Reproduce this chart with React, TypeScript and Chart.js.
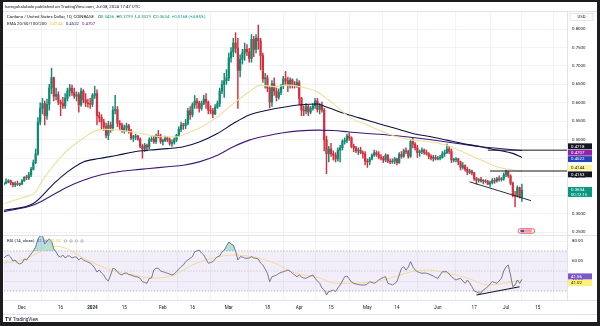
import React, { useEffect, useRef } from 'react';
import { Chart, registerables } from 'chart.js';

Chart.register(...registerables);

const FONT = 'Roboto, "Liberation Sans", Arial, sans-serif';
const TEXT = '#131722';
const UP = '#0f8a73';
const DOWN = '#d3303f';
const LEGEND_UP = '#089981';

// day index 0 = 1 Dec 2023; first candle = 23 Nov 2023
const firstDay = -8;
const firstOpen = 0.379;
const closes = [
  0.382, 0.386, 0.389, 0.383, 0.378, 0.381, 0.379, 0.380, 0.389, 0.398,
  0.397, 0.405, 0.420, 0.438, 0.462, 0.548, 0.585, 0.598, 0.565, 0.596,
  0.640, 0.668, 0.618, 0.622, 0.602, 0.598, 0.592, 0.612, 0.632, 0.640,
  0.628, 0.618, 0.622, 0.595, 0.632, 0.608, 0.600, 0.598, 0.596, 0.620,
  0.625, 0.565, 0.560, 0.548, 0.535, 0.512, 0.540, 0.532, 0.580, 0.582,
  0.545, 0.540, 0.525, 0.532, 0.538, 0.524, 0.505, 0.508, 0.510, 0.502,
  0.482, 0.475, 0.485, 0.480, 0.500, 0.502, 0.495, 0.512, 0.510, 0.495,
  0.498, 0.505, 0.500, 0.490, 0.492, 0.500, 0.512, 0.528, 0.540, 0.538,
  0.545, 0.578, 0.568, 0.595, 0.605, 0.600, 0.585, 0.598, 0.610, 0.602,
  0.580, 0.578, 0.570, 0.588, 0.598, 0.632, 0.650, 0.660, 0.668, 0.722,
  0.738, 0.762, 0.748, 0.688, 0.718, 0.735, 0.745, 0.738, 0.720, 0.772,
  0.745, 0.775, 0.768, 0.728, 0.665, 0.668, 0.640, 0.602, 0.652, 0.632,
  0.615, 0.628, 0.645, 0.665, 0.660, 0.648, 0.662, 0.650, 0.648, 0.655,
  0.612, 0.580, 0.578, 0.590, 0.575, 0.585, 0.592, 0.605, 0.582, 0.592,
  0.580, 0.500, 0.462, 0.475, 0.462, 0.458, 0.448, 0.472, 0.478, 0.495,
  0.498, 0.510, 0.505, 0.482, 0.478, 0.470, 0.472, 0.465, 0.462, 0.442,
  0.440, 0.448, 0.458, 0.465, 0.460, 0.452, 0.450, 0.445, 0.458, 0.442,
  0.440, 0.442, 0.448, 0.438, 0.460, 0.455, 0.470, 0.468, 0.455, 0.495,
  0.488, 0.478, 0.465, 0.468, 0.472, 0.465, 0.462, 0.455, 0.450, 0.452,
  0.448, 0.450, 0.452, 0.462, 0.465, 0.475, 0.468, 0.445, 0.446, 0.448,
  0.440, 0.425, 0.430, 0.420, 0.412, 0.415, 0.410, 0.395, 0.390, 0.392,
  0.388, 0.388, 0.386, 0.380, 0.384, 0.390, 0.388, 0.394, 0.392, 0.394,
  0.405, 0.412, 0.402, 0.382, 0.350, 0.348, 0.370, 0.3456, 0.3634,
];
const highs = [
  0.386, 0.394, 0.392, 0.391, 0.385, 0.386, 0.388, 0.383, 0.392, 0.400,
  0.404, 0.412, 0.425, 0.445, 0.475, 0.560, 0.600, 0.612, 0.605, 0.610,
  0.650, 0.694, 0.670, 0.640, 0.630, 0.608, 0.615, 0.625, 0.640, 0.650,
  0.648, 0.640, 0.630, 0.628, 0.640, 0.636, 0.625, 0.610, 0.612, 0.625,
  0.645, 0.635, 0.575, 0.568, 0.555, 0.545, 0.550, 0.548, 0.590, 0.620,
  0.590, 0.552, 0.545, 0.540, 0.545, 0.542, 0.528, 0.512, 0.515, 0.512,
  0.505, 0.488, 0.490, 0.488, 0.505, 0.508, 0.510, 0.515, 0.525, 0.515,
  0.502, 0.510, 0.508, 0.505, 0.500, 0.505, 0.515, 0.535, 0.548, 0.545,
  0.555, 0.585, 0.590, 0.600, 0.620, 0.612, 0.605, 0.605, 0.620, 0.625,
  0.605, 0.592, 0.585, 0.595, 0.605, 0.640, 0.660, 0.680, 0.690, 0.735,
  0.750, 0.775, 0.790, 0.775, 0.730, 0.745, 0.762, 0.758, 0.748, 0.785,
  0.780, 0.785, 0.811, 0.775, 0.735, 0.680, 0.675, 0.645, 0.660, 0.668,
  0.640, 0.638, 0.650, 0.672, 0.685, 0.670, 0.668, 0.665, 0.658, 0.665,
  0.660, 0.615, 0.592, 0.598, 0.595, 0.590, 0.598, 0.612, 0.612, 0.598,
  0.602, 0.585, 0.510, 0.482, 0.490, 0.470, 0.465, 0.478, 0.485, 0.500,
  0.505, 0.515, 0.518, 0.508, 0.488, 0.482, 0.478, 0.480, 0.470, 0.468,
  0.448, 0.452, 0.462, 0.472, 0.470, 0.468, 0.460, 0.455, 0.462, 0.460,
  0.448, 0.448, 0.452, 0.450, 0.465, 0.468, 0.475, 0.478, 0.472, 0.500,
  0.505, 0.492, 0.485, 0.472, 0.478, 0.475, 0.472, 0.465, 0.460, 0.458,
  0.458, 0.455, 0.458, 0.468, 0.472, 0.488, 0.482, 0.475, 0.450, 0.452,
  0.450, 0.442, 0.438, 0.432, 0.425, 0.420, 0.418, 0.412, 0.398, 0.395,
  0.398, 0.392, 0.392, 0.390, 0.388, 0.395, 0.396, 0.398, 0.402, 0.398,
  0.410, 0.418, 0.415, 0.405, 0.385, 0.360, 0.375, 0.372, 0.3799,
];
const lows = [
  0.376, 0.380, 0.383, 0.378, 0.372, 0.373, 0.376, 0.375, 0.378, 0.387,
  0.392, 0.392, 0.400, 0.418, 0.435, 0.458, 0.540, 0.570, 0.540, 0.555,
  0.580, 0.625, 0.605, 0.608, 0.595, 0.565, 0.585, 0.585, 0.605, 0.618,
  0.620, 0.612, 0.605, 0.575, 0.590, 0.600, 0.590, 0.588, 0.585, 0.590,
  0.612, 0.540, 0.548, 0.530, 0.525, 0.505, 0.500, 0.520, 0.525, 0.570,
  0.535, 0.528, 0.520, 0.518, 0.522, 0.518, 0.500, 0.495, 0.500, 0.498,
  0.478, 0.450, 0.468, 0.470, 0.475, 0.495, 0.490, 0.490, 0.505, 0.490,
  0.485, 0.495, 0.495, 0.485, 0.482, 0.488, 0.495, 0.508, 0.522, 0.528,
  0.530, 0.540, 0.555, 0.562, 0.585, 0.585, 0.575, 0.580, 0.595, 0.585,
  0.570, 0.570, 0.560, 0.568, 0.585, 0.590, 0.625, 0.615, 0.650, 0.660,
  0.710, 0.725, 0.735, 0.585, 0.670, 0.705, 0.715, 0.728, 0.710, 0.710,
  0.725, 0.735, 0.745, 0.690, 0.655, 0.640, 0.630, 0.586, 0.590, 0.620,
  0.605, 0.610, 0.622, 0.638, 0.650, 0.630, 0.640, 0.640, 0.640, 0.642,
  0.595, 0.565, 0.565, 0.570, 0.565, 0.570, 0.580, 0.585, 0.575, 0.570,
  0.575, 0.470, 0.408, 0.440, 0.455, 0.445, 0.440, 0.442, 0.440, 0.472,
  0.488, 0.492, 0.498, 0.478, 0.468, 0.465, 0.460, 0.462, 0.450, 0.432,
  0.425, 0.432, 0.445, 0.455, 0.455, 0.448, 0.445, 0.438, 0.440, 0.438,
  0.435, 0.436, 0.435, 0.432, 0.436, 0.450, 0.452, 0.462, 0.450, 0.452,
  0.478, 0.472, 0.452, 0.455, 0.462, 0.460, 0.458, 0.448, 0.445, 0.442,
  0.445, 0.445, 0.445, 0.450, 0.455, 0.462, 0.462, 0.438, 0.440, 0.440,
  0.432, 0.418, 0.420, 0.415, 0.405, 0.408, 0.405, 0.390, 0.380, 0.385,
  0.385, 0.380, 0.383, 0.378, 0.372, 0.380, 0.382, 0.385, 0.388, 0.388,
  0.390, 0.400, 0.398, 0.378, 0.345, 0.318, 0.345, 0.342, 0.3329,
];

// moving averages (yellow / navy / purple)
const emaFastDays = [-8, -1, 6, 9, 14, 20, 27, 33, 37, 42, 49, 56, 61, 68, 74, 78, 86, 93, 100, 105, 111, 117, 122, 130, 133, 137, 144, 152, 159, 165, 172, 180, 187, 194, 202, 209, 216, 220];
const emaFast = [0.327, 0.341, 0.359, 0.390, 0.431, 0.472, 0.504, 0.526, 0.528, 0.526, 0.521, 0.513, 0.508, 0.508, 0.521, 0.531, 0.562, 0.598, 0.630, 0.648, 0.644, 0.648, 0.644, 0.630, 0.616, 0.598, 0.562, 0.540, 0.521, 0.508, 0.499, 0.494, 0.485, 0.467, 0.445, 0.427, 0.418, 0.4144];
const emaMidDays = [-8, 5, 14, 20, 27, 34, 42, 49, 56, 64, 71, 78, 86, 93, 100, 108, 115, 122, 130, 133, 137, 144, 152, 159, 166, 172, 180, 187, 194, 202, 209, 216, 220];
const emaMid = [0.309, 0.327, 0.381, 0.413, 0.440, 0.449, 0.458, 0.467, 0.472, 0.476, 0.481, 0.494, 0.517, 0.544, 0.567, 0.580, 0.588, 0.594, 0.597, 0.591, 0.582, 0.567, 0.553, 0.540, 0.528, 0.517, 0.508, 0.499, 0.490, 0.481, 0.472, 0.463, 0.4522];
const emaSlowDays = [-8, 5, 12, 20, 27, 34, 42, 49, 56, 64, 71, 78, 86, 93, 100, 108, 115, 122, 130, 137, 144, 152, 159, 166, 172, 180, 187, 194, 202, 209, 216, 220];
const emaSlow = [0.305, 0.323, 0.345, 0.372, 0.390, 0.404, 0.413, 0.418, 0.422, 0.427, 0.431, 0.440, 0.458, 0.481, 0.499, 0.511, 0.519, 0.524, 0.526, 0.525, 0.521, 0.517, 0.514, 0.510, 0.506, 0.500, 0.494, 0.488, 0.481, 0.477, 0.473, 0.4707];

// RSI(14), one value per candle
const rsiValues = [
  63, 65, 66, 64, 60, 61, 58, 57, 58, 62,
  61, 64, 67, 70, 74, 82, 85, 86, 77, 80,
  82, 80, 72, 69, 65, 64, 66, 63, 65, 65,
  63, 64, 64, 61, 63, 61, 60, 59, 58, 56,
  53, 49, 51, 48, 46, 42, 40, 46, 52.7, 52,
  49, 47, 46, 47.7, 48, 46.5, 46, 45, 44.3, 44,
  42.7, 39.3, 38.5, 37.7, 42.7, 43, 51, 52.7, 52.7, 50,
  49.3, 48.5, 47.7, 47, 46, 47, 49.3, 52, 54.3, 56,
  59.3, 61, 62.7, 64.3, 69.3, 70, 71, 68, 66, 62,
  57.7, 58.5, 59.3, 62, 64.3, 65, 69, 71, 75, 79,
  77, 76, 70, 61, 64.3, 64, 63, 62.7, 63, 64.3,
  63, 62.7, 62, 58, 56, 52, 47.7, 39.3, 44.3, 45,
  46, 47.5, 48.5, 49.3, 50, 51, 50, 47.7, 46, 44.3,
  46, 44, 43, 42.7, 44, 45, 46, 42.7, 40, 37.7,
  33, 31, 26, 29.3, 30, 31, 29.3, 33, 36, 40,
  44.3, 45, 42, 39, 37.7, 37, 36.5, 36, 36, 36,
  37, 39.3, 38.5, 37.7, 39, 41, 42.5, 43.5, 44.3, 37.7,
  37, 36, 37.5, 39.3, 46, 52.7, 54.3, 51, 54, 59.3,
  54.3, 51, 49.3, 48.5, 47.7, 48, 47.7, 47, 46, 45,
  43.5, 42.7, 46, 49.3, 49.3, 49.3, 47, 44.3, 42.5, 41,
  42, 42.7, 40, 37.7, 41, 38, 34.3, 30, 29, 28,
  27.7, 31, 32.5, 34.3, 37, 39.3, 38.5, 37.7, 40, 42.7,
  50, 54, 56, 46, 34.3, 36, 41, 37.7, 41.56,
];
const rsiMaDays = [-8, 0, 7, 14, 20, 27, 39, 49, 58, 67, 75, 84, 93, 102, 111, 119, 131, 137, 144, 159, 171, 178, 187, 196, 205, 213, 220];
const rsiMaValues = [58, 61, 68, 75, 72, 63, 51, 46, 43, 46, 56, 63, 66, 64, 58, 49, 43, 38, 37.7, 41, 49, 51, 48, 43, 36, 38, 41.02];

const timeTickDays = [0, 17, 31, 45, 62, 75, 91, 108, 122, 136, 152, 165, 183, 199, 213, 227];
const timeTickLabels = ['Dec', '16', '2024', '15', 'Feb', '16', 'Mar', '18', 'Apr', '15', 'May', '14', 'Jun', '17', 'Jul', '15'];
const priceTicks = [0.25, 0.3, 0.35, 0.4, 0.45, 0.5, 0.55, 0.6, 0.65, 0.7, 0.75, 0.8];
const rsiTicks = [40, 60, 80];
const rsiBandLevels = [70, 50, 30];

const hLineLevels = [0.4718, 0.4153];
const hLineStartDays = [205, 206];
const priceTrendDays = [197, 224];
const priceTrendValues = [0.386, 0.335];
const rsiTrendDays = [200, 219];
const rsiTrendValues = [26, 34.3];
const eventDay = 222;

const changeText = '+0.0168 (+4.85%)';
const countdown = '00:12:15';

const X_MIN = -7.92;
const X_MAX = 239.85;

const pts = (xs: number[], ys: number[]) => xs.map((x, i) => ({ x, y: ys[i] }));

function txt(ctx: CanvasRenderingContext2D, s: string, x: number, y: number, color: string, size = 4.4, weight = 'normal', align: CanvasTextAlign = 'left') {
  ctx.font = `${weight} ${size}px ${FONT}`;
  ctx.fillStyle = color;
  ctx.textAlign = align;
  ctx.textBaseline = 'middle';
  ctx.fillText(s, x, y);
  return ctx.measureText(s).width;
}

function hline(ctx: CanvasRenderingContext2D, x1: number, x2: number, y: number, color: string) {
  ctx.strokeStyle = color;
  ctx.lineWidth = 1;
  ctx.beginPath();
  ctx.moveTo(x1, Math.round(y) + 0.5);
  ctx.lineTo(x2, Math.round(y) + 0.5);
  ctx.stroke();
}

type Tag = { v: number; bg: string; fg: string; y?: number; cy?: number };

function layoutTags(tags: Tag[], H: number) {
  const avg = (a: number[]) => a.reduce((s, v) => s + v, 0) / a.length;
  let groups = tags.map((t) => ({ items: [t], ideal: [t.y as number] }));
  let changed = true;
  while (changed) {
    changed = false;
    for (let i = 0; i < groups.length - 1; i++) {
      const a = groups[i];
      const b = groups[i + 1];
      const aBottom = avg(a.ideal) + (a.items.length * H) / 2;
      const bTop = avg(b.ideal) - (b.items.length * H) / 2;
      if (aBottom > bTop) {
        groups.splice(i, 2, { items: [...a.items, ...b.items], ideal: [...a.ideal, ...b.ideal] });
        changed = true;
        break;
      }
    }
  }
  groups.forEach((g) => {
    const top = avg(g.ideal) - (g.items.length * H) / 2;
    g.items.forEach((t, k) => (t.cy = top + H * k + H / 2));
  });
}

function drawTag(ctx: CanvasRenderingContext2D, x: number, cy: number, h: number, label: string, bg: string, fg: string) {
  ctx.fillStyle = bg;
  ctx.fillRect(x, cy - h / 2, 24, h);
  txt(ctx, label, x + 3, cy + 0.2, fg, 4.4);
}

const tvPlugin = {
  id: 'tvDecor',
  beforeDraw(chart: any) {
    const { ctx, width, height } = chart;
    ctx.save();
    ctx.fillStyle = '#1d1d1f';
    ctx.fillRect(0, 0, width, height);
    ctx.fillStyle = '#ffffff';
    ctx.fillRect(3, 2, 594, 320);
    ctx.restore();
  },
  afterDraw(chart: any) {
    const { ctx, chartArea: area } = chart;
    const ys = chart.scales.y;
    const ys2 = chart.scales.y2;
    const xs = chart.scales.x;
    ctx.save();
    hline(ctx, 3, 597, 11, '#e0e3eb');
    hline(ctx, 3, 597, ys.bottom, '#e0e3eb');
    hline(ctx, 3, 597, area.bottom, '#e0e3eb');
    hline(ctx, 3, 597, 314, '#e0e3eb');
    ctx.strokeStyle = '#e0e3eb';
    ctx.beginPath();
    ctx.moveTo(Math.round(area.right) + 0.5, 11);
    ctx.lineTo(Math.round(area.right) + 0.5, area.bottom);
    ctx.stroke();

    txt(ctx, 'kamguhalubale published on TradingView.com, Jul 08, 2024 17:47 UTC', 5, 7, TEXT, 4.3);

    const n = closes.length - 1;
    const lastOpen = closes[n - 1];
    let x = 7;
    x += txt(ctx, 'Cardano / United States Dollar, 1D, COINBASE', x, 17, TEXT, 4.3) + 4;
    const ohlc: [string, number][] = [['O', lastOpen], ['H', highs[n]], ['L', lows[n]], ['C', closes[n]]];
    ohlc.forEach(([k, v]) => {
      x += txt(ctx, k, x, 17, TEXT, 4.3);
      x += txt(ctx, v.toFixed(4), x, 17, LEGEND_UP, 4.3) + 2.5;
    });
    txt(ctx, changeText, x, 17, LEGEND_UP, 4.3);

    x = 7;
    x += txt(ctx, 'EMA 20/50/100/200', x, 24, TEXT, 4.3) + 3;
    x += txt(ctx, emaFast[emaFast.length - 1].toFixed(4), x, 24, '#e8c547', 4.3) + 3;
    x += txt(ctx, emaMid[emaMid.length - 1].toFixed(4), x, 24, '#1a237e', 4.3) + 3;
    txt(ctx, emaSlow[emaSlow.length - 1].toFixed(4), x, 24, '#6a1b9a', 4.3);

    ctx.fillStyle = '#ffffff';
    ctx.fillRect(570, 13.5, 23, 7);
    ctx.strokeStyle = '#d1d4dc';
    ctx.lineWidth = 0.6;
    ctx.strokeRect(570, 13.5, 23, 7);
    txt(ctx, 'USD', 581.5, 17.2, TEXT, 4.3, 'normal', 'center');

    x = 7;
    const ry = ys2.top + 6;
    x += txt(ctx, 'RSI (14, close)', x, ry, TEXT, 4.3) + 2.5;
    x += txt(ctx, rsiValues[rsiValues.length - 1].toFixed(2), x, ry, '#7e57c2', 4.3) + 2.5;
    x += txt(ctx, rsiMaValues[rsiMaValues.length - 1].toFixed(2), x, ry, '#e8c547', 4.3) + 3;
    ctx.strokeStyle = '#9598a1';
    ctx.lineWidth = 0.6;
    for (let i = 0; i < 4; i++) {
      ctx.beginPath();
      ctx.arc(x + 1.5 + i * 5.5, ry, 1.3, 0, Math.PI * 2);
      ctx.stroke();
    }

    const tagX = area.right + 1;
    const priceTags: Tag[] = [
      { v: hLineLevels[0], bg: '#131722', fg: '#ffffff' },
      { v: emaSlow[emaSlow.length - 1], bg: '#8e24aa', fg: '#ffffff' },
      { v: emaMid[emaMid.length - 1], bg: '#2443b5', fg: '#ffffff' },
      { v: emaFast[emaFast.length - 1], bg: '#fff59d', fg: TEXT },
      { v: hLineLevels[1], bg: '#131722', fg: '#ffffff' },
    ];
    priceTags.forEach((t) => (t.y = ys.getPixelForValue(t.v)));
    layoutTags(priceTags, 6.4);
    priceTags.forEach((t) => drawTag(ctx, tagX, t.cy as number, 5.9, t.v.toFixed(4), t.bg, t.fg));

    const lastY = ys.getPixelForValue(closes[n]);
    ctx.fillStyle = LEGEND_UP;
    ctx.fillRect(tagX, lastY - 3.2, 24, 10);
    txt(ctx, closes[n].toFixed(4), tagX + 3, lastY, '#ffffff', 4.4);
    txt(ctx, countdown, tagX + 3, lastY + 4.6, '#ffffff', 4.2);

    const rsiTags: Tag[] = [
      { v: rsiValues[rsiValues.length - 1], bg: '#7e57c2', fg: '#ffffff' },
      { v: rsiMaValues[rsiMaValues.length - 1], bg: '#fff176', fg: TEXT },
    ];
    rsiTags.forEach((t) => (t.y = ys2.getPixelForValue(t.v)));
    layoutTags(rsiTags, 6.6);
    rsiTags.forEach((t) => drawTag(ctx, tagX, t.cy as number, 6, t.v.toFixed(2), t.bg, t.fg));

    const fx = xs.getPixelForValue(eventDay);
    const fy = ys.bottom - 4;
    ctx.fillStyle = '#ffffff';
    ctx.strokeStyle = '#f23645';
    ctx.lineWidth = 0.8;
    ctx.beginPath();
    ctx.moveTo(fx - 6, fy - 2.3);
    ctx.lineTo(fx + 6, fy - 2.3);
    ctx.arc(fx + 6, fy, 2.3, -Math.PI / 2, Math.PI / 2);
    ctx.lineTo(fx - 6, fy + 2.3);
    ctx.arc(fx - 6, fy, 2.3, Math.PI / 2, Math.PI * 1.5);
    ctx.closePath();
    ctx.fill();
    ctx.stroke();
    ctx.fillStyle = '#3f51b5';
    ctx.fillRect(fx - 6, fy - 1.3, 4, 2.6);
    ctx.fillStyle = '#f23645';
    ctx.fillRect(fx - 1.5, fy - 1.3, 7, 0.8);
    ctx.fillRect(fx - 1.5, fy + 0.5, 7, 0.8);

    txt(ctx, 'TV', 5, 320, TEXT, 5, 'bold');
    txt(ctx, 'TradingView', 13, 320, TEXT, 4.6);
    ctx.restore();
  },
};

function buildConfig(): any {
  const days = closes.map((_, i) => firstDay + i);
  const opens = closes.map((_, i) => (i === 0 ? firstOpen : closes[i - 1]));
  const colors = closes.map((c, i) => (c >= opens[i] ? UP : DOWN));
  const wickData = days.map((d, i) => ({ x: d, y: [lows[i], highs[i]] }));
  const bodyData = days.map((d, i) => ({ x: d, y: [opens[i], closes[i]] }));
  const rsiPts = pts(days, rsiValues);

  const flat = (v: number, x1 = X_MIN, x2 = X_MAX) => [{ x: x1, y: v }, { x: x2, y: v }];
  const lineBase = { type: 'line', pointRadius: 0, borderWidth: 1, fill: false, tension: 0 };

  const datasets: any[] = [
    { ...lineBase, yAxisID: 'y2', data: flat(rsiBandLevels[0]), borderColor: '#9598a1', borderWidth: 0.6, borderDash: [1.5, 1.5], fill: { target: { value: rsiBandLevels[2] } }, backgroundColor: 'rgba(126,87,194,0.1)', order: 30 },
    { ...lineBase, yAxisID: 'y2', data: flat(rsiBandLevels[1]), borderColor: 'rgba(149,152,161,0.6)', borderWidth: 0.6, borderDash: [1.5, 1.5], order: 29 },
    { ...lineBase, yAxisID: 'y2', data: flat(rsiBandLevels[2]), borderColor: '#9598a1', borderWidth: 0.6, borderDash: [1.5, 1.5], order: 29 },
    { ...lineBase, yAxisID: 'y2', data: rsiPts, borderColor: 'rgba(0,0,0,0)', fill: { target: { value: 70 }, above: 'rgba(38,166,154,0.35)', below: 'rgba(0,0,0,0)' }, order: 28 },
    { ...lineBase, yAxisID: 'y2', data: rsiPts, borderColor: 'rgba(0,0,0,0)', fill: { target: { value: 30 }, above: 'rgba(0,0,0,0)', below: 'rgba(242,54,69,0.25)' }, order: 27 },
    { ...lineBase, yAxisID: 'y2', data: pts(rsiMaDays, rsiMaValues), borderColor: '#f3d98b', borderWidth: 0.9, cubicInterpolationMode: 'monotone', order: 4 },
    { ...lineBase, yAxisID: 'y2', data: rsiPts, borderColor: '#5e5873', borderWidth: 0.8, order: 3 },
    { ...lineBase, yAxisID: 'y2', data: pts(rsiTrendDays, rsiTrendValues), borderColor: '#131722', borderWidth: 1.1, order: 2 },

    { type: 'bar', yAxisID: 'y', data: wickData, backgroundColor: colors, barThickness: 0.8, grouped: false, order: 12 },
    { type: 'bar', yAxisID: 'y', data: bodyData, backgroundColor: colors, barThickness: 1.6, minBarLength: 0.8, grouped: false, order: 11 },

    { ...lineBase, yAxisID: 'y', data: pts(emaSlowDays, emaSlow), borderColor: '#3d1a78', borderWidth: 1.1, cubicInterpolationMode: 'monotone', order: 8 },
    { ...lineBase, yAxisID: 'y', data: pts(emaMidDays, emaMid), borderColor: '#0e1240', borderWidth: 1.1, cubicInterpolationMode: 'monotone', order: 7 },
    { ...lineBase, yAxisID: 'y', data: pts(emaFastDays, emaFast), borderColor: '#efdf9a', borderWidth: 1.1, cubicInterpolationMode: 'monotone', order: 6 },
    { ...lineBase, yAxisID: 'y', data: flat(hLineLevels[0], hLineStartDays[0], X_MAX + 5), borderColor: '#131722', borderWidth: 1, order: 5 },
    { ...lineBase, yAxisID: 'y', data: flat(hLineLevels[1], hLineStartDays[1], X_MAX + 5), borderColor: '#131722', borderWidth: 1, order: 5 },
    { ...lineBase, yAxisID: 'y', data: pts(priceTrendDays, priceTrendValues), borderColor: '#131722', borderWidth: 0.9, order: 5 },
  ];

  const gridColor = '#eef0f5';
  return {
    type: 'line',
    data: { datasets },
    options: {
      responsive: false,
      maintainAspectRatio: false,
      devicePixelRatio: 1,
      animation: false,
      events: [],
      layout: { padding: { left: 4, right: 3, top: 12, bottom: 12 } },
      plugins: { legend: { display: false }, tooltip: { enabled: false } },
      scales: {
        x: {
          type: 'linear',
          min: X_MIN,
          max: X_MAX,
          offset: false,
          afterBuildTicks: (ax: any) => {
            ax.ticks = timeTickDays.map((v) => ({ value: v }));
          },
          afterFit: (ax: any) => {
            ax.height = 14;
          },
          ticks: {
            autoSkip: false,
            maxRotation: 0,
            padding: 5,
            color: TEXT,
            font: (c: any) => ({ family: FONT, size: 4.6, weight: timeTickLabels[c.index] === '2024' ? 'bold' : 'normal' }),
            callback: (_v: any, i: number) => timeTickLabels[i],
          },
          grid: { color: gridColor, drawTicks: false, lineWidth: 0.8 },
          border: { display: false },
        },
        y: {
          type: 'linear',
          position: 'right',
          stack: 'panes',
          stackWeight: 223,
          min: 0.2419,
          max: 0.8461,
          afterBuildTicks: (ax: any) => {
            ax.ticks = priceTicks.map((v) => ({ value: v }));
          },
          afterFit: (ax: any) => {
            ax.width = 30;
          },
          ticks: { padding: 5, color: TEXT, font: { family: FONT, size: 4.4 }, callback: (v: any) => Number(v).toFixed(4) },
          grid: { color: gridColor, drawTicks: false, lineWidth: 0.8 },
          border: { display: false },
        },
        y2: {
          type: 'linear',
          position: 'right',
          stack: 'panes',
          stackWeight: 65,
          min: 21,
          max: 86,
          afterBuildTicks: (ax: any) => {
            ax.ticks = rsiTicks.map((v) => ({ value: v }));
          },
          afterFit: (ax: any) => {
            ax.width = 30;
          },
          ticks: { padding: 5, color: TEXT, font: { family: FONT, size: 4.4 }, callback: (v: any) => Number(v).toFixed(2) },
          grid: { color: gridColor, drawTicks: false, lineWidth: 0.8 },
          border: { display: false },
        },
      },
    },
    plugins: [tvPlugin],
  };
}

export default function App() {
  const ref = useRef<HTMLCanvasElement>(null);
  useEffect(() => {
    const canvas = ref.current;
    if (!canvas) return;
    const chart = new Chart(canvas, buildConfig());
    return () => chart.destroy();
  }, []);
  return (
    <div style={{ position: 'absolute', left: 0, top: 0, width: 600, height: 326 }}>
      <canvas ref={ref} width={600} height={326} style={{ display: 'block', width: 600, height: 326 }} />
    </div>
  );
}
